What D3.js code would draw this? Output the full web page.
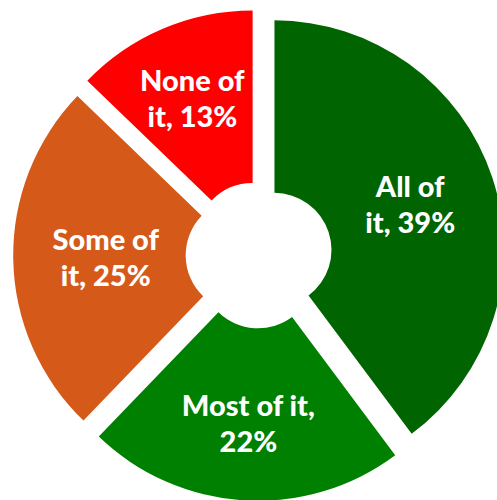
<!DOCTYPE html>
<html>
<head>
<meta charset="utf-8">
<script src="https://cdn.jsdelivr.net/npm/d3@7"></script>
<style>
  html, body { margin: 0; padding: 0; background: #fff; }
  svg { display: block; }
</style>
</head>
<body>
<svg id="chart" width="497" height="500"></svg>
<script>
// ---- data ----
const categories = ["All of it", "Most of it", "Some of it", "None of it"];
const values = [39.8, 22.4, 25.0, 12.8];
const labelLine1 = ["All of", "Most of it,", "Some of", "None of"];
const labelLine2 = ["it, 39%", "22%", "it, 25%", "it, 13%"];
const colors = ["#006400", "#008000", "#D55A1A", "#FF0000"];

// ---- layout ----
const W = 497, H = 500;
const cx = 259, cy = 255;
const outerR = 229.5, innerR = 57;
const explode = 16.3;
const labelR = [143, 153, 137, 154];
const lineGap = 36;

const svg = d3.select("#chart");
const g = svg.append("g").attr("transform", `translate(${cx},${cy})`);

const pie = d3.pie().sort(null).value(d => d.value).startAngle(0).endAngle(2 * Math.PI);
const arcs = pie(categories.map((c, i) => ({ name: c, value: values[i], i })));
const arc = d3.arc().innerRadius(innerR).outerRadius(outerR);

const slice = g.selectAll("g.slice").data(arcs).join("g")
  .attr("class", "slice")
  .attr("transform", d => {
    const mid = (d.startAngle + d.endAngle) / 2;
    return `translate(${explode * Math.sin(mid)},${-explode * Math.cos(mid)})`;
  });

slice.append("path")
  .attr("d", arc)
  .attr("fill", (d, i) => colors[i]);

const text = slice.append("text")
  .attr("text-anchor", "middle")
  .attr("fill", "#fff")
  .style("font-family", "Lato, 'Open Sans', sans-serif")
  .style("font-weight", "900")
  .style("font-size", "29px")
  .attr("transform", (d, i) => {
    const mid = (d.startAngle + d.endAngle) / 2;
    const r = labelR[i];
    return `translate(${r * Math.sin(mid)},${-r * Math.cos(mid)})`;
  });

text.append("tspan").attr("x", 0).attr("y", -lineGap / 2 + 10.5).text((d, i) => labelLine1[i]);
text.append("tspan").attr("x", 0).attr("y", lineGap / 2 + 10.5).text((d, i) => labelLine2[i]);
</script>
</body>
</html>
